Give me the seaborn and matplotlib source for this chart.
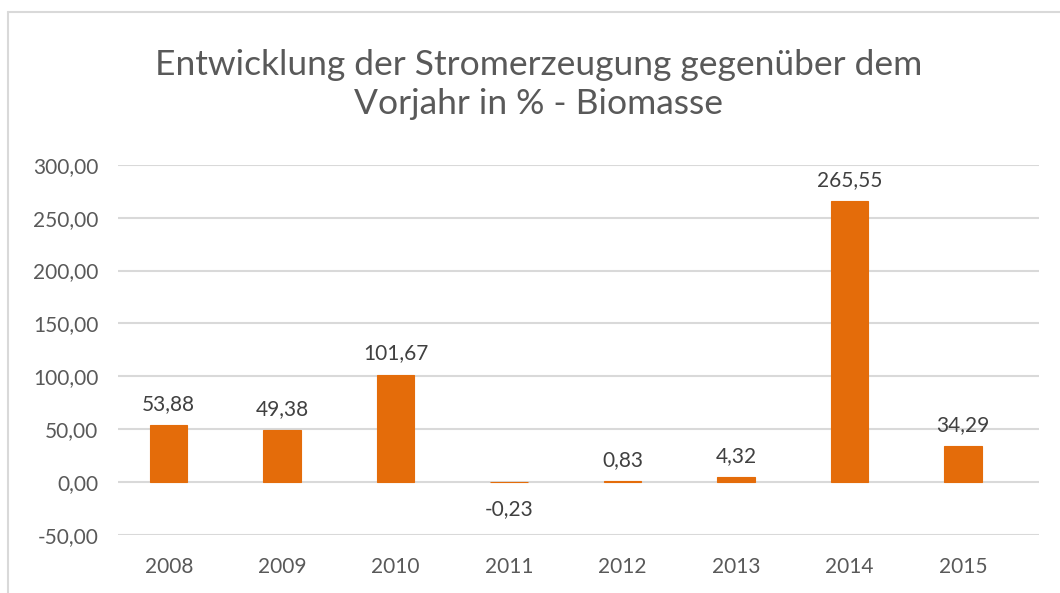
import matplotlib
matplotlib.use("Agg")
import matplotlib.pyplot as plt
import pandas as pd
import seaborn as sns
from matplotlib.lines import Line2D

# Data
years = ["2008", "2009", "2010", "2011", "2012", "2013", "2014", "2015"]
values = [53.88, 49.38, 101.67, -0.23, 0.83, 4.32, 265.55, 34.29]
yticks = [-50, 0, 50, 100, 150, 200, 250, 300]

df = pd.DataFrame({"year": years, "value": values})

sns.set_style("white")
plt.rcParams["font.family"] = ["Lato", "DejaVu Sans"]

fig = plt.figure(figsize=(10.6, 5.93), dpi=100)
ax = fig.add_axes([0.111, 0.098, 0.869, 0.624])

sns.barplot(data=df, x="year", y="value", color="#E46C0A", saturation=1,
            width=0.33, edgecolor="#E46C0A", linewidth=0.8, ax=ax, zorder=3)

ax.set_ylim(-50, 300)
ax.set_xlim(-0.45, 7.67)
ax.set_yticks(yticks)
ax.set_yticklabels([f"{v:.2f}".replace(".", ",") for v in yticks])
ax.yaxis.grid(True, color="#D9D9D9", linewidth=1.5, zorder=0)
ax.xaxis.grid(False)
for s in ax.spines.values():
    s.set_visible(False)
ax.tick_params(axis="both", length=0, labelsize=15, labelcolor="#595959", pad=14)
ax.tick_params(axis="x", pad=16)
ax.set_xlabel("")
ax.set_ylabel("")

for i, v in enumerate(values):
    txt = f"{v:.2f}".replace(".", ",")
    if v >= 0:
        ax.annotate(txt, (i, v), xytext=(0, 8), textcoords="offset points",
                    ha="center", va="bottom", fontsize=15, color="#404040")
    else:
        ax.annotate(txt, (i, v), xytext=(0, -12), textcoords="offset points",
                    ha="center", va="top", fontsize=15, color="#404040")

fig.text(0.508, 0.858, "Entwicklung der Stromerzeugung gegenüber dem\nVorjahr in % - Biomasse",
         ha="center", va="center", fontsize=25.5, color="#595959", linespacing=1.28)

# chart frame (left and top edges visible)
fig.add_artist(Line2D([8 / 1060, 8 / 1060], [0, 1 - 12 / 593], transform=fig.transFigure,
                      color="#D9D9D9", linewidth=1.5))
fig.add_artist(Line2D([8 / 1060, 1], [1 - 12 / 593, 1 - 12 / 593], transform=fig.transFigure,
                      color="#D9D9D9", linewidth=1.5))

fig.savefig("out.png", dpi=100)
